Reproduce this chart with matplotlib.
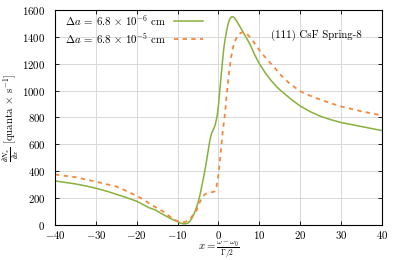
import numpy as np
import matplotlib
matplotlib.use("Agg")
import matplotlib.pyplot as plt

plt.rcParams['font.family'] = 'serif'
plt.rcParams['font.serif'] = ['cmr10']
plt.rcParams['mathtext.fontset'] = 'cm'
plt.rcParams['axes.formatter.use_mathtext'] = True
plt.rcParams['font.size'] = 7.8

# values
x_thin = [-40, -37.5, -35, -32.5, -30, -27.5, -25, -22.5, -20, -18.5, -17, -15.5,
          -14, -12.5, -11, -10, -9.3, -8.6, -8, -7.5, -7, -6.5, -6, -5.5, -5,
          -4.5, -4.1, -3.7, -3.3, -2.9, -2.5, -2.1, -1.7, -1.3, -0.9, -0.6, -0.3,
          0, 0.3, 0.6, 1.0, 1.3, 1.6, 2.0, 2.4, 2.8, 3.3, 3.8, 4.5, 5.6, 6.5,
          7.7, 8.8, 10, 11.5, 13, 14.5, 16, 18, 20, 22.5, 25, 27.5, 30, 35, 40]
y_thin = [327, 316, 305, 290, 273, 252, 228, 203, 176, 152, 128, 112,
          85, 60, 37, 24, 14, 8, 9, 14, 26, 50, 80, 120, 165,
          225, 285, 345, 409, 480, 555, 630, 680, 707, 735, 770, 815,
          890, 990, 1090, 1220, 1310, 1375, 1445, 1500, 1535, 1550, 1545, 1515, 1457, 1410,
          1345, 1270, 1200, 1130, 1070, 1020, 980, 930, 885, 842, 808, 783, 762, 732, 702]

x_thick = [-40, -35, -30, -25, -22.5, -20, -18, -16.4, -15, -13.5, -12, -11.1, -10,
           -9, -8.2, -7.4, -6.8, -6.3, -5.8, -5.3, -4.7, -4.1, -3.5, -2.9, -2.2,
           -1.5, -0.86, -0.5, -0.2, 0.1, 0.5, 1.0, 1.6, 2.0, 2.5, 3.0, 3.6, 4.2,
           4.8, 5.5, 6.2, 7.0, 8.1, 9.0, 10.15, 11.5, 13, 15.5, 17.5, 20, 22.5,
           25, 27.5, 30, 35, 40]
y_thick = [375, 355, 322, 285, 252, 216, 182, 149, 125, 99, 65, 42, 28,
           20, 22, 35, 50, 70, 90, 112, 160, 198, 222, 236, 240,
           244, 250, 280, 330, 400, 520, 680, 830, 960, 1110, 1230, 1325, 1380,
           1412, 1430, 1435, 1420, 1385, 1345, 1295, 1245, 1195, 1107, 1050, 995, 960,
           932, 905, 882, 845, 815]

labels = [r'$\Delta a\:=\:6.8\,\times\,10^{-6}$ cm', r'$\Delta a\:=\:6.8\,\times\,10^{-5}$ cm']

fig = plt.figure(figsize=(3.99, 2.60), dpi=100)
ax = fig.add_axes([0.138, 0.135, 0.819, 0.827])

ax.plot(x_thin, y_thin, color='#88b03a', lw=1.1, label=labels[0])
ax.plot(x_thick, y_thick, color='#f5883c', lw=1.3, dashes=(2.4, 2.4), label=labels[1])

ax.set_xlim(-40, 40)
ax.set_ylim(0, 1600)
ax.set_xticks(np.arange(-40, 41, 10))
ax.set_yticks(np.arange(0, 1601, 200))
ax.grid(True, color='#d9d9d9', lw=0.7)
ax.set_axisbelow(True)
ax.tick_params(direction='in', top=True, right=True, length=3, width=0.6, pad=3)
ax.tick_params(axis='y', pad=7)
for s in ax.spines.values():
    s.set_linewidth(0.8)

ax.set_xlabel(r'$x = \frac{\omega - \omega_0}{\Gamma/2}$', labelpad=-1)
ax.set_ylabel(r'$\frac{\partial N_x}{\partial x}$ [quanta $\times$ s$^{-1}$]', labelpad=1)

ax.text(24, 1410, '(111) CsF Spring-8', ha='center', va='center')

ax.legend(loc='upper left', bbox_to_anchor=(0.03, 0.985), frameon=False, markerfirst=False,
          handlelength=2.7, handletextpad=0.7, labelspacing=0.3, borderaxespad=0,
          borderpad=0)

fig.savefig('out.png', dpi=100)
